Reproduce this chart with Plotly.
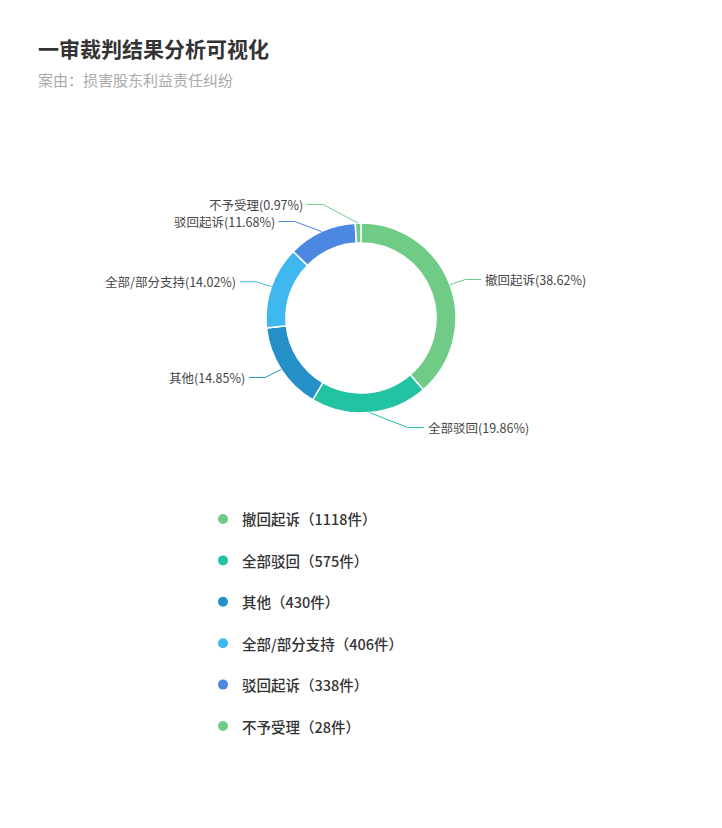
import math
import plotly.graph_objects as go

# data
categories = ["撤回起诉", "全部驳回", "其他", "全部/部分支持", "驳回起诉", "不予受理"]
counts = [1118, 575, 430, 406, 338, 28]
colors = ["#70cb86", "#22c3a2", "#2490c7", "#3fb7ef", "#4c87e2", "#70cb86"]
title = "一审裁判结果分析可视化"
subtitle = "案由：损害股东利益责任纠纷"

W, H = 722, 828
OFF = 8  # page body margin
cx, cy = 361, 318
r_out = 95
FONT = "Noto Sans CJK SC"


def px_x(x):
    return (x - OFF) / W


def px_y(y):
    return 1 - (y - OFF) / H


total = sum(counts)
pcts = [c / total * 100 for c in counts]

fig = go.Figure(go.Pie(
    labels=categories,
    values=counts,
    sort=False,
    direction="clockwise",
    rotation=0,
    hole=0.79,
    marker=dict(colors=colors, line=dict(color="white", width=1.5)),
    textinfo="none",
    hoverinfo="label+value+percent",
    showlegend=False,
    domain=dict(x=[px_x(cx - r_out), px_x(cx + r_out)],
                y=[px_y(cy + r_out), px_y(cy - r_out)]),
))

# outside labels with leader lines (echarts-like layout)
items = []
acc = 0
for i, c in enumerate(counts):
    mid = (acc + c / 2) / total * 2 * math.pi
    acc += c
    items.append(dict(
        i=i,
        sx=cx + r_out * math.sin(mid),
        sy=cy - r_out * math.cos(mid),
        y=cy - 110 * math.cos(mid),
        side=1 if math.sin(mid) >= 0 else -1,
    ))

gap = 17
for side in (1, -1):
    grp = sorted([it for it in items if it["side"] == side], key=lambda d: d["y"])
    for _ in range(50):
        for a, b in zip(grp, grp[1:]):
            d = b["y"] - a["y"]
            if d < gap:
                s = (gap - d) / 2
                a["y"] -= s
                b["y"] += s

shapes = []
annotations = []
for it in items:
    i, side, y = it["i"], it["side"], it["y"]
    dy = y - cy
    t = max(0.0, 1 - (dy / 121) ** 2)
    ex = cx + side * 110 * math.sqrt(t)
    lx = ex + side * 16
    path = "M {},{} L {},{} L {},{}".format(
        px_x(it["sx"]), px_y(it["sy"]), px_x(ex), px_y(y), px_x(lx), px_y(y))
    shapes.append(dict(type="path", xref="paper", yref="paper", path=path,
                       line=dict(color=colors[i], width=1)))
    annotations.append(dict(
        x=px_x(lx + side * 2), y=px_y(y), xref="paper", yref="paper",
        text="{}({:.2f}%)".format(categories[i], pcts[i]),
        showarrow=False, xanchor="left" if side > 0 else "right", yanchor="middle",
        font=dict(family=FONT, size=12.5, color="#464646"),
    ))

# custom legend
for i, cat in enumerate(categories):
    ly = 519 + i * 41.4
    shapes.append(dict(type="circle", xref="paper", yref="paper",
                       x0=px_x(218), x1=px_x(228), y0=px_y(ly + 5), y1=px_y(ly - 5),
                       fillcolor=colors[i], line=dict(width=0)))
    annotations.append(dict(
        x=px_x(240), y=px_y(ly), xref="paper", yref="paper",
        text="{}（{}件）".format(cat, counts[i]),
        showarrow=False, xanchor="left", yanchor="middle",
        font=dict(family=FONT, size=14.5, color="#333333", weight=500),
    ))

# title
annotations.append(dict(x=px_x(36), y=px_y(48), xref="paper", yref="paper",
                        text="<b>" + title + "</b>", showarrow=False,
                        xanchor="left", yanchor="middle",
                        font=dict(family=FONT, size=21, color="#333333")))
annotations.append(dict(x=px_x(36), y=px_y(79), xref="paper", yref="paper",
                        text=subtitle, showarrow=False,
                        xanchor="left", yanchor="middle",
                        font=dict(family=FONT, size=15, color="#aaaaaa")))

fig.update_layout(
    width=W, height=H,
    margin=dict(l=0, r=0, t=0, b=0),
    paper_bgcolor="white",
    plot_bgcolor="white",
    shapes=shapes,
    annotations=annotations,
    font=dict(family=FONT),
)

fig.write_html("out.html")
